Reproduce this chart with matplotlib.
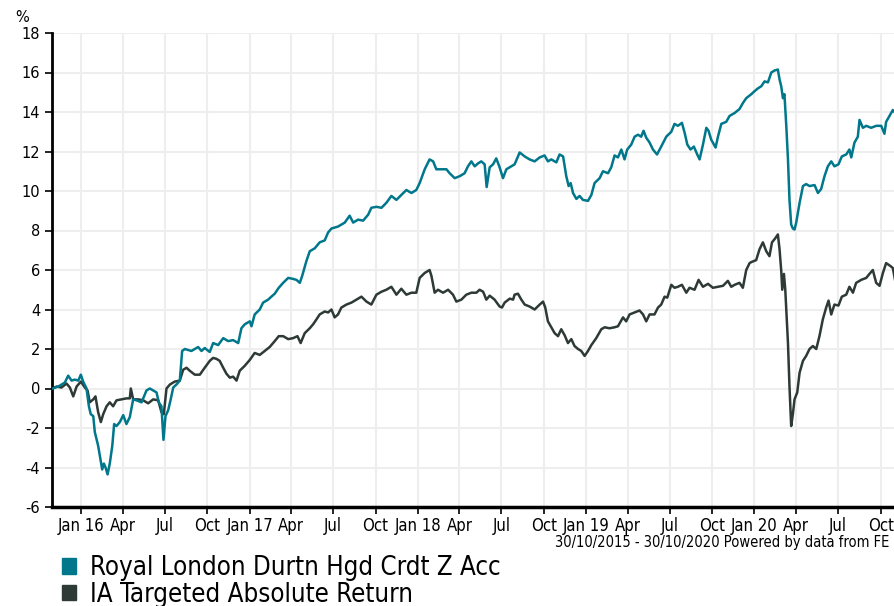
import numpy as np
import pandas as pd
import matplotlib
matplotlib.use("Agg")
import matplotlib.pyplot as plt
from matplotlib.patches import Patch

# dates as decimal years, values in %
fund_years = [
    2015.830, 2015.864, 2015.903, 2015.923, 2015.943, 2015.962, 2015.983, 2015.998, 2016.012, 2016.032,
    2016.046, 2016.057, 2016.072, 2016.081, 2016.101, 2016.115, 2016.125, 2016.135, 2016.145, 2016.157,
    2016.170, 2016.185, 2016.196, 2016.210, 2016.230, 2016.250, 2016.269, 2016.289, 2016.309, 2016.329,
    2016.359, 2016.388, 2016.408, 2016.428, 2016.448, 2016.461, 2016.477, 2016.489, 2016.501, 2016.517,
    2016.532, 2016.547, 2016.566, 2016.586, 2016.600, 2016.616, 2016.655, 2016.695, 2016.715, 2016.734,
    2016.764, 2016.784, 2016.814, 2016.844, 2016.873, 2016.903, 2016.933, 2016.952, 2016.972, 2017.002,
    2017.012, 2017.031, 2017.061, 2017.081, 2017.111, 2017.130, 2017.150, 2017.174, 2017.200, 2017.230,
    2017.259, 2017.279, 2017.299, 2017.313, 2017.338, 2017.358, 2017.388, 2017.417, 2017.447, 2017.467,
    2017.487, 2017.526, 2017.566, 2017.595, 2017.616, 2017.645, 2017.675, 2017.705, 2017.724, 2017.754,
    2017.784, 2017.813, 2017.843, 2017.873, 2017.902, 2017.932, 2017.962, 2017.991, 2018.011, 2018.041,
    2018.070, 2018.091, 2018.110, 2018.140, 2018.170, 2018.189, 2018.219, 2018.249, 2018.278, 2018.298,
    2018.318, 2018.338, 2018.358, 2018.377, 2018.397, 2018.409, 2018.427, 2018.447, 2018.466, 2018.486,
    2018.506, 2018.526, 2018.556, 2018.575, 2018.605, 2018.635, 2018.664, 2018.694, 2018.724, 2018.753,
    2018.773, 2018.793, 2018.823, 2018.842, 2018.863, 2018.882, 2018.896, 2018.908, 2018.922, 2018.942,
    2018.961, 2018.981, 2019.011, 2019.031, 2019.050, 2019.080, 2019.100, 2019.130, 2019.149, 2019.169,
    2019.189, 2019.209, 2019.228, 2019.244, 2019.268, 2019.288, 2019.308, 2019.327, 2019.341, 2019.357,
    2019.377, 2019.397, 2019.421, 2019.446, 2019.476, 2019.506, 2019.525, 2019.545, 2019.569, 2019.585,
    2019.601, 2019.620, 2019.640, 2019.660, 2019.674, 2019.694, 2019.714, 2019.727, 2019.743, 2019.769,
    2019.783, 2019.803, 2019.832, 2019.852, 2019.882, 2019.911, 2019.931, 2019.951, 2019.981, 2020.000,
    2020.021, 2020.040, 2020.060, 2020.080, 2020.100, 2020.119, 2020.139, 2020.149, 2020.159, 2020.169,
    2020.178, 2020.189, 2020.199, 2020.208, 2020.218, 2020.228, 2020.238, 2020.248, 2020.268, 2020.288,
    2020.307, 2020.327, 2020.357, 2020.377, 2020.396, 2020.416, 2020.436, 2020.456, 2020.475, 2020.499,
    2020.519, 2020.545, 2020.564, 2020.575, 2020.594, 2020.614, 2020.624, 2020.644, 2020.664, 2020.693,
    2020.723, 2020.753, 2020.772, 2020.782, 2020.802, 2020.822, 2020.836,
]
fund_values = [
    0.0, 0.1, 0.3, 0.65, 0.4, 0.45, 0.4, 0.7, 0.35, 0.0,
    -0.9, -1.3, -1.4, -2.2, -2.9, -3.6, -4.1, -3.8, -4.0, -4.35,
    -3.8, -2.9, -1.8, -1.9, -1.7, -1.35, -1.8, -1.45, -0.55, -0.6,
    -0.7, -0.1, 0.0, -0.1, -0.2, -0.7, -0.9, -2.6, -1.4, -1.1,
    -0.55, 0.05, 0.2, 0.4, 1.9, 2.0, 1.9, 2.1, 1.9, 2.05,
    1.85, 2.3, 2.2, 2.55, 2.4, 2.45, 2.3, 3.05, 3.25, 3.4,
    3.15, 3.75, 4.0, 4.35, 4.5, 4.65, 4.8, 5.1, 5.35, 5.6,
    5.55, 5.5, 5.35, 5.7, 6.45, 6.95, 7.1, 7.4, 7.5, 7.9,
    8.1, 8.2, 8.4, 8.75, 8.4, 8.55, 8.5, 8.8, 9.15, 9.2,
    9.15, 9.4, 9.75, 9.55, 9.8, 10.05, 9.9, 10.05, 10.4, 11.1,
    11.6, 11.5, 11.1, 11.1, 11.1, 10.9, 10.65, 10.75, 10.9, 11.25,
    11.5, 11.25, 11.4, 11.5, 11.35, 10.2, 11.2, 11.35, 11.65, 11.2,
    10.65, 11.1, 11.25, 11.35, 11.95, 11.75, 11.6, 11.5, 11.7, 11.8,
    11.5, 11.6, 11.45, 11.85, 11.75, 10.75, 10.25, 10.4, 9.9, 9.6,
    9.75, 9.55, 9.5, 9.8, 10.4, 10.65, 11.0, 10.9, 11.2, 11.8,
    11.7, 12.1, 11.6, 12.1, 12.35, 12.75, 12.85, 12.75, 13.05, 12.7,
    12.45, 12.1, 11.85, 12.25, 12.75, 13.0, 13.4, 13.3, 13.45, 12.95,
    12.35, 12.1, 12.25, 11.85, 11.6, 12.35, 13.2, 13.05, 12.6, 12.2,
    12.75, 13.4, 13.5, 13.8, 13.95, 14.15, 14.45, 14.7, 14.9, 15.05,
    15.2, 15.3, 15.55, 15.5, 16.0, 16.1, 16.15, 15.65, 15.3, 14.7,
    14.9, 13.3, 11.6, 9.55, 8.3, 8.1, 8.05, 8.4, 9.4, 10.25,
    10.35, 10.25, 10.3, 9.9, 10.1, 10.75, 11.25, 11.5, 11.25, 11.35,
    11.75, 11.85, 12.1, 11.7, 12.45, 12.75, 13.6, 13.2, 13.3, 13.2,
    13.3, 13.3, 12.9, 13.5, 13.8, 14.1, 13.95,
]

sector_years = [
    2015.830, 2015.854, 2015.883, 2015.913, 2015.933, 2015.953, 2015.973, 2015.998, 2016.022, 2016.038,
    2016.051, 2016.072, 2016.085, 2016.101, 2016.117, 2016.131, 2016.151, 2016.170, 2016.190, 2016.210,
    2016.240, 2016.269, 2016.289, 2016.295, 2016.309, 2016.339, 2016.369, 2016.398, 2016.428, 2016.458,
    2016.477, 2016.491, 2016.507, 2016.527, 2016.556, 2016.586, 2016.606, 2016.626, 2016.645, 2016.675,
    2016.705, 2016.734, 2016.764, 2016.784, 2016.804, 2016.823, 2016.844, 2016.863, 2016.883, 2016.903,
    2016.923, 2016.942, 2016.972, 2017.002, 2017.031, 2017.061, 2017.091, 2017.120, 2017.150, 2017.174,
    2017.200, 2017.230, 2017.259, 2017.285, 2017.304, 2017.328, 2017.358, 2017.378, 2017.398, 2017.417,
    2017.447, 2017.467, 2017.487, 2017.506, 2017.526, 2017.546, 2017.576, 2017.606, 2017.635, 2017.665,
    2017.695, 2017.724, 2017.754, 2017.784, 2017.813, 2017.843, 2017.873, 2017.902, 2017.932, 2017.962,
    2017.991, 2018.011, 2018.041, 2018.070, 2018.081, 2018.100, 2018.120, 2018.150, 2018.180, 2018.209,
    2018.229, 2018.259, 2018.288, 2018.318, 2018.348, 2018.367, 2018.388, 2018.407, 2018.427, 2018.456,
    2018.486, 2018.500, 2018.516, 2018.546, 2018.566, 2018.575, 2018.595, 2018.615, 2018.635, 2018.664,
    2018.694, 2018.724, 2018.744, 2018.757, 2018.773, 2018.793, 2018.813, 2018.833, 2018.852, 2018.872,
    2018.892, 2018.912, 2018.931, 2018.952, 2018.971, 2018.991, 2019.011, 2019.031, 2019.060, 2019.090,
    2019.110, 2019.139, 2019.169, 2019.189, 2019.219, 2019.238, 2019.258, 2019.288, 2019.317, 2019.338,
    2019.357, 2019.377, 2019.406, 2019.427, 2019.446, 2019.466, 2019.482, 2019.506, 2019.525, 2019.545,
    2019.569, 2019.595, 2019.614, 2019.644, 2019.668, 2019.694, 2019.724, 2019.753, 2019.783, 2019.813,
    2019.842, 2019.862, 2019.882, 2019.911, 2019.931, 2019.951, 2019.971, 2019.981, 2020.010, 2020.030,
    2020.050, 2020.070, 2020.089, 2020.104, 2020.123, 2020.139, 2020.149, 2020.159, 2020.165, 2020.175,
    2020.183, 2020.190, 2020.199, 2020.208, 2020.218, 2020.228, 2020.238, 2020.254, 2020.268, 2020.288,
    2020.307, 2020.327, 2020.347, 2020.367, 2020.386, 2020.406, 2020.426, 2020.440, 2020.456, 2020.475,
    2020.499, 2020.519, 2020.545, 2020.564, 2020.585, 2020.604, 2020.634, 2020.664, 2020.683, 2020.703,
    2020.723, 2020.743, 2020.763, 2020.782, 2020.808, 2020.822, 2020.836,
]
sector_values = [
    0.0, 0.1, 0.05, 0.25, 0.05, -0.4, 0.1, 0.35, 0.05, -0.1,
    -0.7, -0.55, -0.4, -1.2, -1.7, -1.3, -0.9, -0.7, -0.9, -0.6,
    -0.55, -0.5, -0.5, 0.0, -0.55, -0.55, -0.6, -0.75, -0.55, -0.6,
    -1.2, -1.3, 0.0, 0.2, 0.35, 0.4, 0.95, 1.05, 0.9, 0.7,
    0.7, 1.05, 1.4, 1.55, 1.5, 1.4, 1.05, 0.75, 0.55, 0.6,
    0.4, 0.9, 1.15, 1.45, 1.8, 1.7, 1.9, 2.1, 2.4, 2.65,
    2.65, 2.5, 2.55, 2.65, 2.3, 2.8, 3.05, 3.25, 3.5, 3.75,
    3.9, 3.85, 4.0, 3.6, 3.75, 4.1, 4.25, 4.35, 4.5, 4.65,
    4.4, 4.25, 4.75, 4.9, 5.0, 5.15, 4.75, 5.05, 4.75, 4.85,
    4.85, 5.6, 5.85, 6.0, 5.7, 4.85, 5.0, 4.85, 5.0, 4.75,
    4.4, 4.5, 4.75, 4.85, 4.85, 5.0, 4.9, 4.5, 4.7, 4.5,
    4.15, 4.1, 4.35, 4.55, 4.5, 4.75, 4.8, 4.5, 4.25, 4.15,
    4.0, 4.25, 4.4, 4.1, 3.4, 3.1, 2.8, 2.65, 3.0, 2.7,
    2.3, 2.5, 2.15, 2.0, 1.9, 1.65, 1.9, 2.2, 2.55, 3.0,
    3.1, 3.05, 3.1, 3.15, 3.6, 3.4, 3.75, 3.85, 3.95, 3.75,
    3.4, 3.75, 3.75, 4.1, 4.25, 4.65, 4.6, 5.25, 5.1, 5.15,
    5.25, 4.85, 5.1, 5.0, 5.5, 5.15, 5.3, 5.1, 5.15, 5.2,
    5.45, 5.15, 5.25, 5.35, 5.1, 6.0, 6.35, 6.4, 6.5, 7.05,
    7.4, 6.95, 6.7, 7.4, 7.6, 7.8, 7.05, 5.95, 5.0, 5.8,
    5.0, 3.85, 2.3, 0.1, -1.9, -1.3, -0.55, -0.2, 0.8, 1.4,
    1.65, 2.0, 2.15, 2.0, 2.65, 3.5, 4.1, 4.45, 3.75, 4.25,
    4.2, 4.65, 4.75, 5.15, 4.85, 5.35, 5.5, 5.6, 5.8, 6.0,
    5.35, 5.2, 5.85, 6.35, 6.2, 6.1, 5.45,
]

fund_name = "Royal London Durtn Hgd Crdt Z Acc"
sector_name = "IA Targeted Absolute Return"
footer = "30/10/2015 - 30/10/2020 Powered by data from FE"
y_ticks = list(range(-6, 19, 2))

teal = "#00778B"
dark = "#2E3A36"


def to_dates(years):
    years = np.asarray(years, dtype=float)
    base = pd.Timestamp("2015-01-01")
    return base + pd.to_timedelta((years - 2015.0) * 365.25, unit="D")


fig = plt.figure(figsize=(8.94, 6.06), dpi=100)
ax = fig.add_axes([52 / 894, 1 - 507 / 606, 1 - 52 / 894, (507 - 33) / 606])

ax.plot(to_dates(fund_years), fund_values, color=teal, lw=1.8, zorder=3)
ax.plot(to_dates(sector_years), sector_values, color=dark, lw=1.8, zorder=2)

ax.set_xlim(pd.Timestamp("2015-10-30"), pd.Timestamp("2020-10-30"))
ax.set_ylim(-6, 18)
ax.set_yticks(y_ticks)
ax.set_yticklabels([str(t) for t in y_ticks], fontsize=10.5)

quarters = pd.date_range("2016-01-01", "2020-10-01", freq="QS")
ax.set_xticks(quarters)
ax.set_xticklabels([d.strftime("%b %y") if d.month == 1 else d.strftime("%b") for d in quarters],
                   fontsize=12, fontstretch="condensed")

ax.grid(True, color="#eeeeee", lw=1.5)
ax.set_axisbelow(True)
for s in ["top", "right"]:
    ax.spines[s].set_visible(False)
ax.spines["left"].set_linewidth(2)
ax.spines["bottom"].set_linewidth(2.5)
ax.tick_params(axis="both", direction="out", length=5, width=1.2, colors="black")
ax.tick_params(axis="x", pad=2)

fig.text(15 / 894, 1 - 17 / 606, "%", fontsize=10.5, ha="left", va="center")
fig.text(889 / 894, 1 - 542 / 606, footer, fontsize=10.5, ha="right", va="center",
         fontstretch="condensed")

handles = [Patch(facecolor=teal, edgecolor=teal), Patch(facecolor=dark, edgecolor=dark)]
fig.legend(handles, [fund_name, sector_name], loc="upper left",
           bbox_to_anchor=(62 / 894, 1 - 555 / 606), frameon=False,
           prop={"size": 18.5, "stretch": "condensed"},
           handlelength=0.55, handleheight=0.55, handletextpad=0.55, labelspacing=0.02,
           borderaxespad=0, borderpad=0)

fig.savefig("out.png", dpi=100)
